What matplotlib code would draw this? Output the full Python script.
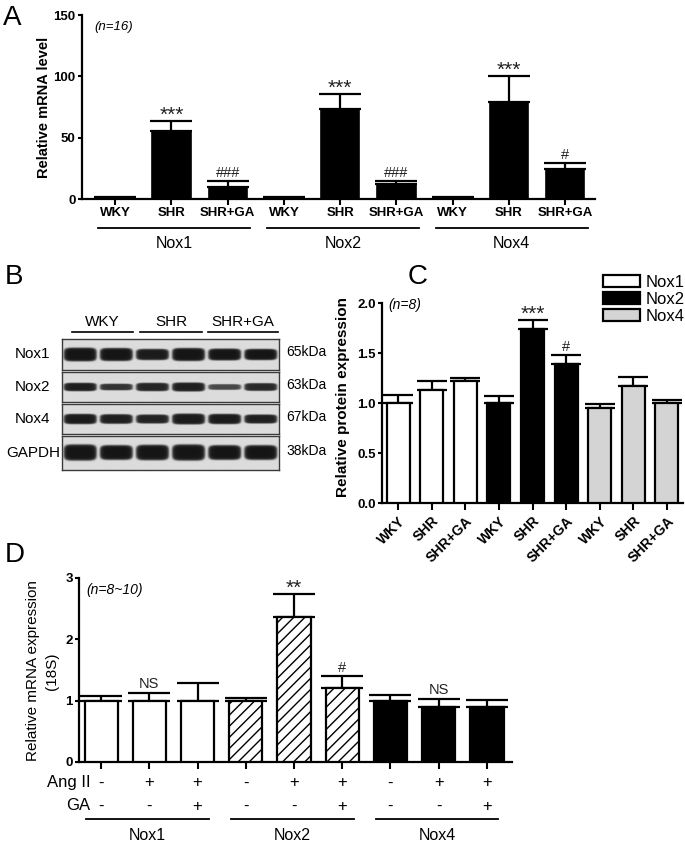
import numpy as np
import matplotlib.pyplot as plt
import matplotlib.transforms as mtransforms
from matplotlib.patches import Patch

plt.rcParams['font.family'] = ['Liberation Sans', 'DejaVu Sans']
plt.rcParams['hatch.linewidth'] = 1.0

W, H = 685, 841

# ---- panel A: mRNA levels in tissue
a_groups = ['Nox1', 'Nox2', 'Nox4']
a_conditions = ['WKY', 'SHR', 'SHR+GA']
a_values = [1.0, 55.5, 10.0, 1.0, 73.5, 12.0, 1.2, 79.0, 24.5]
a_errors = [0.3, 8.0, 4.7, 0.3, 12.0, 2.3, 0.3, 21.5, 4.5]
a_marks = ['', '***', '###', '', '***', '###', '', '***', '#']

# ---- panel B: western blot (relative band thickness / darkness per lane)
blot_rows = ['Nox1', 'Nox2', 'Nox4', 'GAPDH']
blot_kda = ['65kDa', '63kDa', '67kDa', '38kDa']
blot_lane_groups = ['WKY', 'SHR', 'SHR+GA']
band_thickness = {
    'Nox1': [0.44, 0.42, 0.36, 0.42, 0.38, 0.36],
    'Nox2': [0.28, 0.22, 0.28, 0.30, 0.19, 0.26],
    'Nox4': [0.34, 0.32, 0.30, 0.36, 0.34, 0.30],
    'GAPDH': [0.46, 0.42, 0.44, 0.46, 0.42, 0.42],
}
band_darkness = {
    'Nox1': [1.0, 1.0, 0.97, 1.0, 1.0, 1.0],
    'Nox2': [0.95, 0.85, 0.92, 0.95, 0.75, 0.9],
    'Nox4': [0.97, 0.95, 0.93, 0.97, 0.97, 0.95],
    'GAPDH': [1.0, 1.0, 1.0, 1.0, 1.0, 1.0],
}

# ---- panel C: protein expression
c_labels = ['WKY', 'SHR', 'SHR+GA'] * 3
c_values = [1.00, 1.13, 1.22, 1.00, 1.74, 1.39, 0.95, 1.17, 1.00]
c_errors = [0.08, 0.09, 0.03, 0.07, 0.09, 0.09, 0.04, 0.09, 0.03]
c_marks = ['', '', '', '', '***', '#', '', '', '']
c_colors = ['white'] * 3 + ['black'] * 3 + ['#d4d4d4'] * 3

# ---- panel D: mRNA expression in cells
d_groups = ['Nox1', 'Nox2', 'Nox4']
d_values = [1.00, 0.99, 1.00, 1.00, 2.36, 1.21, 1.00, 0.90, 0.90]
d_errors = [0.08, 0.14, 0.28, 0.05, 0.38, 0.19, 0.09, 0.13, 0.11]
d_angii = ['-', '+', '+'] * 3
d_ga = ['-', '-', '+'] * 3
d_marks = ['', 'NS', '', '', '**', '#', '', 'NS', '']


def fx(px):
    return px / W


def fy(py):
    return 1 - py / H


def style_axes(ax):
    for s in ['top', 'right']:
        ax.spines[s].set_visible(False)
    for s in ['left', 'bottom']:
        ax.spines[s].set_linewidth(1.6)
    ax.tick_params(width=1.5, direction='out')
    ax.tick_params(axis='y', length=3, pad=1.5, labelsize=9.5)


def mark(ax, x, y, txt):
    if not txt:
        return
    size = 15 if '*' in txt else 10.5
    dy = -3 if '*' in txt else 1
    ax.annotate(txt, (x, y), xytext=(0, dy), textcoords='offset points',
                ha='center', va='bottom', fontsize=size, color='#222222',
                annotation_clip=False)


fig = plt.figure(figsize=(W / 100, H / 100), dpi=100)
x = np.arange(9)

# ================= A =================
axA = fig.add_axes([fx(82), fy(199), fx(595) - fx(82), fy(15) - fy(199)])
axA.bar(x, a_values, width=0.68, color='black', edgecolor='black', linewidth=1.2, zorder=3)
axA.errorbar(x, a_values, yerr=[np.zeros(9), a_errors], fmt='none', ecolor='black',
             elinewidth=1.6, capsize=15, capthick=1.6, zorder=2)
for i in range(9):
    mark(axA, x[i], a_values[i] + a_errors[i], a_marks[i])
axA.set_xlim(-0.59, 8.53)
axA.set_ylim(0, 150)
axA.set_yticks([0, 50, 100, 150])
style_axes(axA)
axA.tick_params(axis='x', length=4, pad=2, labelsize=9.5)
axA.set_xticks(x)
axA.set_xticklabels(a_conditions * 3, fontweight='bold')
for lab in axA.get_yticklabels():
    lab.set_fontweight('bold')
axA.text(0.025, 0.935, '(n=16)', transform=axA.transAxes, fontsize=9.5,
         style='italic', ha='left', va='center')
trA = mtransforms.blended_transform_factory(axA.transData, fig.transFigure)
for g, name in enumerate(a_groups):
    x0, x1 = g * 3 - 0.3, g * 3 + 2.4
    axA.plot([x0, x1], [fy(228), fy(228)], color='black', lw=1.3,
             transform=trA, clip_on=False)
    axA.text((x0 + x1) / 2, fy(243), name, transform=trA, ha='center',
             va='center', fontsize=11.5)
fig.text(fx(44), fy(107), 'Relative mRNA level', rotation=90, ha='center',
         va='center', fontsize=10.5, fontweight='bold')

# ================= B =================
strip_tops = [339, 372, 404, 436]
strip_bots = [370, 402, 434, 470]
xs = np.linspace(0, 6, 600)
for r, row in enumerate(blot_rows):
    axB = fig.add_axes([fx(62), fy(strip_bots[r]), fx(279) - fx(62),
                        fy(strip_tops[r]) - fy(strip_bots[r])])
    ys = np.linspace(0, 1, 80)
    X, Y = np.meshgrid(xs, ys)
    img = np.full(X.shape, 0.86)
    for lane in range(6):
        t = band_thickness[row][lane]
        d = ((X - (lane + 0.5)) / 0.45) ** 6 + ((Y - 0.5) / (t / 2)) ** 4
        shape = 1 / (1 + np.exp((d - 1) * 4))
        img = img - (0.86 - 0.07) * shape * band_darkness[row][lane]
    axB.imshow(img, cmap='gray', vmin=0, vmax=1, extent=(0, 6, 0, 1),
               aspect='auto', interpolation='bilinear')
    axB.set_xticks([])
    axB.set_yticks([])
    for s in axB.spines.values():
        s.set_color('#3a3a3a')
        s.set_linewidth(1.0)
    fig.text(fx(33), fy((strip_tops[r] + strip_bots[r]) / 2), row,
             ha='center', va='center', fontsize=11)
    fig.text(fx(286), fy((strip_tops[r] + strip_bots[r]) / 2 - 2), blot_kda[r],
             ha='left', va='center', fontsize=10)

header_x = [(72, 133), (140, 202), (208, 278)]
for (l, rr), name in zip(header_x, blot_lane_groups):
    fig.add_artist(plt.Line2D([fx(l), fx(rr)], [fy(332), fy(332)], color='black', lw=1.2))
    fig.text(fx((l + rr) / 2), fy(322), name, ha='center', va='center', fontsize=11)

# ================= C =================
axC = fig.add_axes([fx(382), fy(503), fx(683) - fx(382), fy(303) - fy(503)])
axC.bar(x, c_values, width=0.68, color=c_colors, edgecolor='black', linewidth=1.6, zorder=3)
axC.errorbar(x, c_values, yerr=[np.zeros(9), c_errors], fmt='none', ecolor='black',
             elinewidth=1.6, capsize=11, capthick=1.6, zorder=2)
for i in range(9):
    mark(axC, x[i], c_values[i] + c_errors[i], c_marks[i])
axC.set_xlim(-0.48, 8.48)
axC.set_ylim(0, 2.0)
axC.set_yticks([0, 0.5, 1.0, 1.5, 2.0])
axC.set_yticklabels(['0.0', '0.5', '1.0', '1.5', '2.0'], fontweight='bold')
style_axes(axC)
axC.tick_params(axis='x', length=5, pad=3, labelsize=10)
axC.set_xticks(x)
axC.set_xticklabels(c_labels, rotation=45, ha='right', rotation_mode='anchor',
                    fontweight='bold')
axC.text(0.02, 0.99, '(n=8)', transform=axC.transAxes, fontsize=10,
         style='italic', ha='left', va='center')
fig.text(fx(343), fy(397), 'Relative protein expression', rotation=90, ha='center',
         va='center', fontsize=11, fontweight='bold')
handles = [Patch(facecolor=c, edgecolor='black', linewidth=1.6)
           for c in ['white', 'black', '#d4d4d4']]
fig.legend(handles, ['Nox1', 'Nox2', 'Nox4'], loc='upper left',
           bbox_to_anchor=(fx(603), fy(275)), frameon=False, fontsize=12,
           handlelength=2.2, handleheight=0.75, handletextpad=0.35,
           labelspacing=0.12, borderpad=0, borderaxespad=0)

# ================= D =================
axD = fig.add_axes([fx(79), fy(762), fx(512) - fx(79), fy(578) - fy(762)])
d_colors = ['white'] * 3 + ['white'] * 3 + ['black'] * 3
d_hatch = [''] * 3 + ['///'] * 3 + [''] * 3
bars = axD.bar(x, d_values, width=0.69, color=d_colors, edgecolor='black',
               linewidth=1.6, zorder=3)
for b, h in zip(bars, d_hatch):
    b.set_hatch(h)
axD.errorbar(x, d_values, yerr=[np.zeros(9), d_errors], fmt='none', ecolor='black',
             elinewidth=1.6, capsize=15, capthick=1.6, zorder=2)
for i in range(9):
    mark(axD, x[i], d_values[i] + d_errors[i], d_marks[i])
axD.set_xlim(-0.46, 8.52)
axD.set_ylim(0, 3)
axD.set_yticks([0, 1, 2, 3])
style_axes(axD)
axD.tick_params(axis='x', length=5, labelbottom=False)
axD.set_xticks(x)
for lab in axD.get_yticklabels():
    lab.set_fontweight('bold')
axD.text(0.018, 0.935, '(n=8~10)', transform=axD.transAxes, fontsize=10,
         style='italic', ha='left', va='center')
trD = mtransforms.blended_transform_factory(axD.transData, fig.transFigure)
for i in range(9):
    axD.text(x[i], fy(783), d_angii[i], transform=trD, ha='center', va='center', fontsize=12)
    axD.text(x[i], fy(806), d_ga[i], transform=trD, ha='center', va='center', fontsize=12)
axD.text(-0.22, fy(783), 'Ang II', transform=trD, ha='right', va='center', fontsize=12)
axD.text(-0.22, fy(806), 'GA', transform=trD, ha='right', va='center', fontsize=12)
for g, name in enumerate(d_groups):
    x0, x1 = g * 3 - 0.31, g * 3 + 2.24
    axD.plot([x0, x1], [fy(819), fy(819)], color='black', lw=1.3,
             transform=trD, clip_on=False)
    axD.text((x0 + x1) / 2, fy(835), name, transform=trD, ha='center',
             va='center', fontsize=11.5)
fig.text(fx(33), fy(671), 'Relative mRNA expression', rotation=90, ha='center',
         va='center', fontsize=11)
fig.text(fx(52), fy(671), '(18S)', rotation=90, ha='center', va='center', fontsize=11)

# panel letters
for letter, px, py in [('A', 3, 25), ('B', 5, 284), ('C', 408, 284), ('D', 5, 562)]:
    fig.text(fx(px), fy(py), letter, ha='left', va='baseline', fontsize=20)

fig.savefig('out.png', dpi=100)
